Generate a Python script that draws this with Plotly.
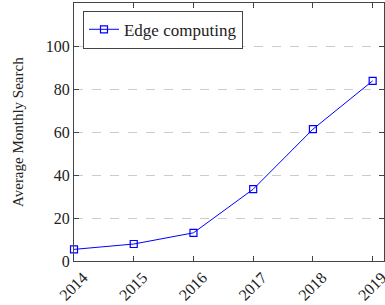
import plotly.graph_objects as go

years = [2014, 2015, 2016, 2017, 2018, 2019]
edge_computing = [5.4, 7.9, 13.1, 33.4, 61.3, 83.8]
y_ticks = [0, 20, 40, 60, 80, 100]
series_name = "Edge computing"
y_title = "Average Monthly Search"

FONT = "Liberation Serif"

fig = go.Figure()
fig.add_trace(go.Scatter(
    x=years, y=edge_computing, name=series_name, mode="lines+markers",
    line=dict(color="#0000ff", width=1),
    marker=dict(symbol="square-open", size=7, color="#0000ff", line=dict(width=1.2)),
    cliponaxis=False,
))

fig.update_layout(
    width=385, height=305,
    margin=dict(l=74, r=1, t=3, b=44, autoexpand=False),
    paper_bgcolor="white", plot_bgcolor="white",
    font=dict(family=FONT, size=16, color="#222"),
    showlegend=True,
    legend=dict(x=0.029, y=0.97, xanchor="left", yanchor="top",
                bordercolor="#444", borderwidth=1, bgcolor="white",
                font=dict(family=FONT, size=17)),
    xaxis=dict(range=[2014, 2019.19], tickvals=years, ticktext=[str(y) for y in years],
               tickangle=-45, ticks="inside", ticklen=5, tickcolor="#444",
               showline=True, linecolor="#444", linewidth=1, mirror="ticks",
               showgrid=False, zeroline=False, automargin=False,
               ticklabelshift=9, ticklabelstandoff=0, ticklabeloverflow="allow",
               tickfont=dict(family=FONT, size=16)),
    yaxis=dict(range=[0, 120], tickvals=y_ticks, ticks="inside", ticklen=5, tickcolor="#444",
               showline=True, linecolor="#444", linewidth=1, mirror="ticks",
               showgrid=True, gridcolor="#cccccc", griddash="dash", gridwidth=1,
               zeroline=False, automargin=False,
               tickfont=dict(family=FONT, size=16)),
    annotations=[dict(text=y_title, textangle=-90, xref="paper", yref="paper",
                      x=(18 - 74) / 310, y=0.5, xanchor="center", yanchor="middle",
                      showarrow=False, font=dict(family=FONT, size=15, color="#222"))],
)

fig.write_html("out.html", config={"displayModeBar": False},
               post_script="document.body.style.margin='0';document.body.style.overflow='hidden';")
